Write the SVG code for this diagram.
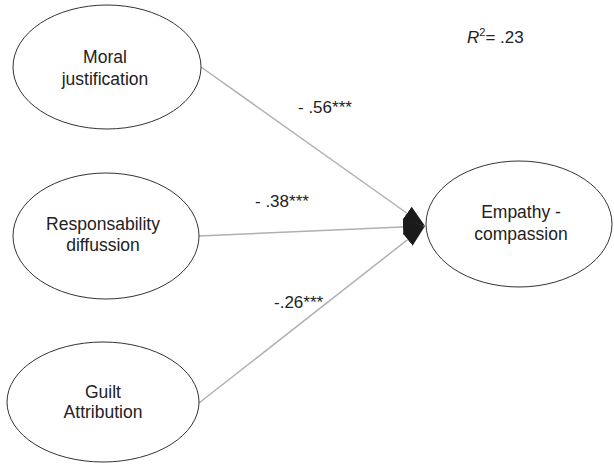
<svg xmlns="http://www.w3.org/2000/svg" width="614" height="464" viewBox="0 0 614 464">
  <style>
    .node ellipse { fill: #ffffff; stroke: #333333; stroke-width: 1; }
    .node text { font-family: "Liberation Sans", Arial, sans-serif; font-size: 17.5px; fill: #222222; text-anchor: middle; }
    .edge { stroke: #b0b0b0; stroke-width: 1.5; fill: none; marker-end: url(#arrow); }
    .lbl { font-family: "Liberation Sans", Arial, sans-serif; font-size: 17px; fill: #222222; }
  </style>
  <defs>
    <marker id="arrow" markerUnits="userSpaceOnUse" markerWidth="22" markerHeight="16" refX="22" refY="8" orient="auto" viewBox="0 0 22 16">
      <path d="M0,0 L22,8 L0,16 z" fill="#1a1a1a"/>
    </marker>
  </defs>
  <rect width="614" height="464" fill="#ffffff"/>
  <g id="connectors">
    <line class="edge" x1="201" y1="67" x2="425" y2="226"/>
    <line class="edge" x1="199" y1="236" x2="425" y2="226"/>
    <line class="edge" x1="199" y1="403" x2="425" y2="226"/>
    <text class="lbl" x="298" y="113">- .56***</text>
    <text class="lbl" x="255" y="207">- .38***</text>
    <text class="lbl" x="274" y="308">-.26***</text>
  </g>
  <g id="moral" class="node">
    <ellipse cx="107" cy="67" rx="94" ry="62"/>
    <text x="105" y="63">Moral</text>
    <text x="105" y="85">justification</text>
  </g>
  <g id="responsability" class="node">
    <ellipse cx="106" cy="236" rx="93" ry="63"/>
    <text x="103" y="230">Responsability</text>
    <text x="103" y="251">diffussion</text>
  </g>
  <g id="guilt" class="node">
    <ellipse cx="103" cy="402" rx="96" ry="60"/>
    <text x="103" y="398">Guilt</text>
    <text x="103" y="418">Attribution</text>
  </g>
  <g id="empathy" class="node">
    <ellipse cx="519" cy="224" rx="93" ry="63"/>
    <text x="521" y="218">Empathy -</text>
    <text x="521" y="240">compassion</text>
  </g>
  <g id="r2">
    <text class="lbl" x="467" y="43"><tspan font-style="italic">R</tspan><tspan font-size="11" dy="-7">2</tspan><tspan dy="7">= .23</tspan></text>
  </g>
</svg>
